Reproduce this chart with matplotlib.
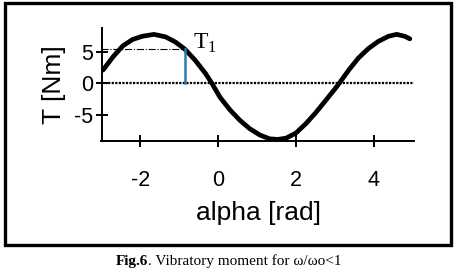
import matplotlib
matplotlib.use("Agg")
import matplotlib.pyplot as plt
from matplotlib.patches import Rectangle

plt.rcParams['font.family'] = ['Liberation Sans', 'DejaVu Sans']
plt.rcParams['axes.unicode_minus'] = False
plt.rcParams['mathtext.fontset'] = 'custom'
plt.rcParams['mathtext.rm'] = 'Liberation Serif'

# curve
alpha = [-2.96, -2.7, -2.45, -2.2, -1.95, -1.65, -1.35, -1.1, -0.86, -0.6,
         -0.33, -0.16, 0.05, 0.31, 0.56, 0.81, 1.07, 1.32, 1.53, 1.75,
         2.0, 2.26, 2.51, 2.75, 3.0, 3.1, 3.36, 3.61, 3.87, 4.12,
         4.38, 4.59, 4.8, 4.93]
T = [2.1, 4.2, 5.9, 6.9, 7.4, 7.7, 7.3, 6.5, 5.4, 3.7,
     1.6, 0.0, -2.2, -4.2, -5.8, -7.1, -8.1, -8.7, -8.8, -8.6,
     -7.8, -6.3, -4.6, -2.8, -0.9, -0.1, 2.1, 4.0, 5.5, 6.6,
     7.4, 7.7, 7.4, 7.0]

T1_alpha = -0.86
T1_value = 5.4
x_ticks = [-2, 0, 2, 4]
y_ticks = [-5, 0, 5]

fig = plt.figure(figsize=(4.57, 2.73), dpi=100)
fig.patches.append(Rectangle((5 / 457, 1 - 245 / 273), 446 / 457, 242 / 273,
                             transform=fig.transFigure, fill=False,
                             edgecolor='black', linewidth=2.4))

ax = fig.add_axes([101.5 / 457, 1 - 140.7 / 273, 313 / 457, 112.7 / 273])
ax.plot(alpha, T, color='black', linewidth=3.4, solid_capstyle='round')
ax.plot([-3, 5.05], [0, 0], color='black', linestyle=(0, (1, 0.6)), linewidth=1.6)
ax.plot([-3, T1_alpha], [T1_value, T1_value], color='black', linestyle='-.', linewidth=0.8)
ax.plot([T1_alpha, T1_alpha], [0, T1_value], color='#2a7ab8', linewidth=1.8)
ax.text(T1_alpha + 0.22, T1_value + 0.1, r'$\mathrm{T}_\mathrm{1}$', fontsize=17)

ax.set_xlim(-3, 5.05)
ax.set_ylim(-9, 8.7)
ax.set_xticks(x_ticks)
ax.set_yticks(y_ticks)
ax.tick_params(direction='inout', length=8, width=1.4, labelsize=15.5)
ax.tick_params(axis='x', pad=17)
ax.tick_params(axis='y', pad=2)
for s in ['top', 'right']:
    ax.spines[s].set_visible(False)
for s in ['left', 'bottom']:
    ax.spines[s].set_linewidth(1.4)
ax.set_xlabel('alpha [rad]', fontsize=19, labelpad=7)
ax.set_ylabel('T [Nm]', fontsize=19, labelpad=6)

# caption: bold part followed by regular part, centred together
cap_y = 1 - 261 / 273
c1 = fig.text(0, cap_y, 'Fig.6', ha='left', va='center', fontsize=11,
              family='Liberation Serif', weight='bold')
c2 = fig.text(0, cap_y, '. Vibratory moment for ω/ωo<1', ha='left', va='center',
              fontsize=11, family='Liberation Serif')
r = fig.canvas.get_renderer()
w1 = c1.get_window_extent(r).width / 457
w2 = c2.get_window_extent(r).width / 457
x0 = 0.5 - (w1 + w2) / 2
c1.set_x(x0)
c2.set_x(x0 + w1)

fig.savefig('out.png', dpi=100)
